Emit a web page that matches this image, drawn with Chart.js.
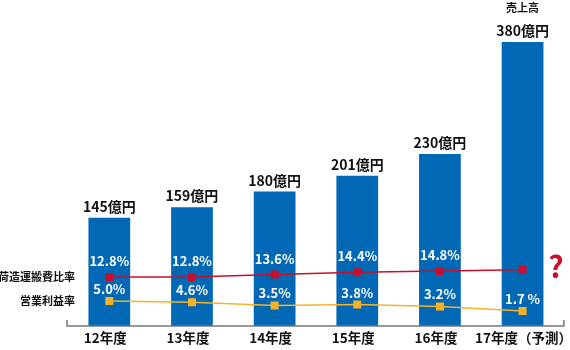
<!DOCTYPE html>
<html><head><meta charset="utf-8">
<script src="https://cdn.jsdelivr.net/npm/chart.js@4"></script>
<style>html,body{margin:0;padding:0;background:#fff}#wrap{width:570px;height:350px;position:relative}</style>
</head><body><div id="wrap"><canvas id="c"></canvas></div>
<script>
const categories = ['12年度','13年度','14年度','15年度','16年度','17年度（予測）'];
const sales = [145,159,180,201,230,380];
const shippingRatio = [12.8,12.8,13.6,14.4,14.8,15.2];
const shippingLabels = ['12.8%','12.8%','13.6%','14.4%','14.8%',''];
const profitRatio = [5.0,4.6,3.5,3.8,3.2,1.7];
const profitLabels = ['5.0%','4.6%','3.5%','3.8%','3.2%','1.7 %'];

const FONT = '"Noto Sans CJK JP", "Noto Sans", sans-serif';
const BLUE = '#0068b4', RED = '#c8102e', YEL = '#f5b325';

const overlay = {
  id: 'overlay',
  afterDatasetsDraw(chart) {
    const ctx = chart.ctx;
    const ca = chart.chartArea;
    const bars = chart.getDatasetMeta(0).data;
    const red = chart.getDatasetMeta(1).data;
    const yel = chart.getDatasetMeta(2).data;
    ctx.save();
    ctx.textAlign = 'center'; ctx.textBaseline = 'middle';
    // axis line
    ctx.strokeStyle = '#777'; ctx.lineWidth = 1.5;
    ctx.beginPath();
    ctx.moveTo(ca.left - 1, ca.bottom - 6); ctx.lineTo(ca.left - 1, ca.bottom);
    ctx.lineTo(ca.right, ca.bottom); ctx.lineTo(ca.right, ca.bottom - 6);
    ctx.stroke();
    // bar value labels
    ctx.fillStyle = '#111';
    ctx.font = 'bold 14px ' + FONT;
    bars.forEach((b, i) => ctx.fillText(sales[i] + '億円', b.x, b.y - 11));
    ctx.font = 'bold 11px ' + FONT;
    ctx.fillText('売上高', bars[5].x, 8);
    // category labels
    ctx.font = 'bold 13.5px ' + FONT;
    bars.forEach((b, i) => {
      const off = i < 5 ? -4 : 1;
      ctx.fillText(categories[i], b.x + off, 338);
    });
    // percent labels
    ctx.fillStyle = '#fff';
    ctx.font = 'bold 13px ' + FONT;
    red.forEach((p, i) => { if (shippingLabels[i]) ctx.fillText(shippingLabels[i], p.x, p.y - 16); });
    yel.forEach((p, i) => ctx.fillText(profitLabels[i], p.x, p.y - 12));
    // left labels
    ctx.fillStyle = '#111';
    ctx.textAlign = 'right';
    ctx.font = 'bold 11px ' + FONT;
    ctx.fillText('荷造運搬費比率', 75, red[0].y);
    ctx.fillText('営業利益率', 75, yel[0].y);
    // question mark
    ctx.textAlign = 'center';
    ctx.fillStyle = RED;
    ctx.font = 'bold 30px ' + FONT;
    ctx.fillText('?', 556, 267);
    ctx.restore();
  }
};

new Chart(document.getElementById('c'), {
  data: {
    labels: categories,
    datasets: [
      { type: 'bar', data: sales, backgroundColor: BLUE, yAxisID: 'y', order: 3,
        categoryPercentage: 1, barPercentage: 0.505 },
      { type: 'line', data: shippingRatio, borderColor: RED, backgroundColor: RED, borderWidth: 1.5,
        pointStyle: 'rect', pointRadius: 4.6, tension: 0, yAxisID: 'y2', order: 1 },
      { type: 'line', data: profitRatio, borderColor: YEL, backgroundColor: YEL, borderWidth: 1.5,
        pointStyle: 'rect', pointRadius: 4.6, tension: 0, yAxisID: 'y2', order: 2 }
    ]
  },
  options: {
    responsive: true, maintainAspectRatio: false, animation: false,
    layout: { padding: { left: 68, right: 3, top: 42, bottom: 24 } },
    plugins: { legend: { display: false }, tooltip: { enabled: false } },
    scales: {
      x: { display: false, offset: true },
      y: { display: false, min: 0, max: 380 },
      y2: { display: false, min: -3.2, max: 89.6 }
    }
  },
  plugins: [overlay]
});
</script></body></html>
